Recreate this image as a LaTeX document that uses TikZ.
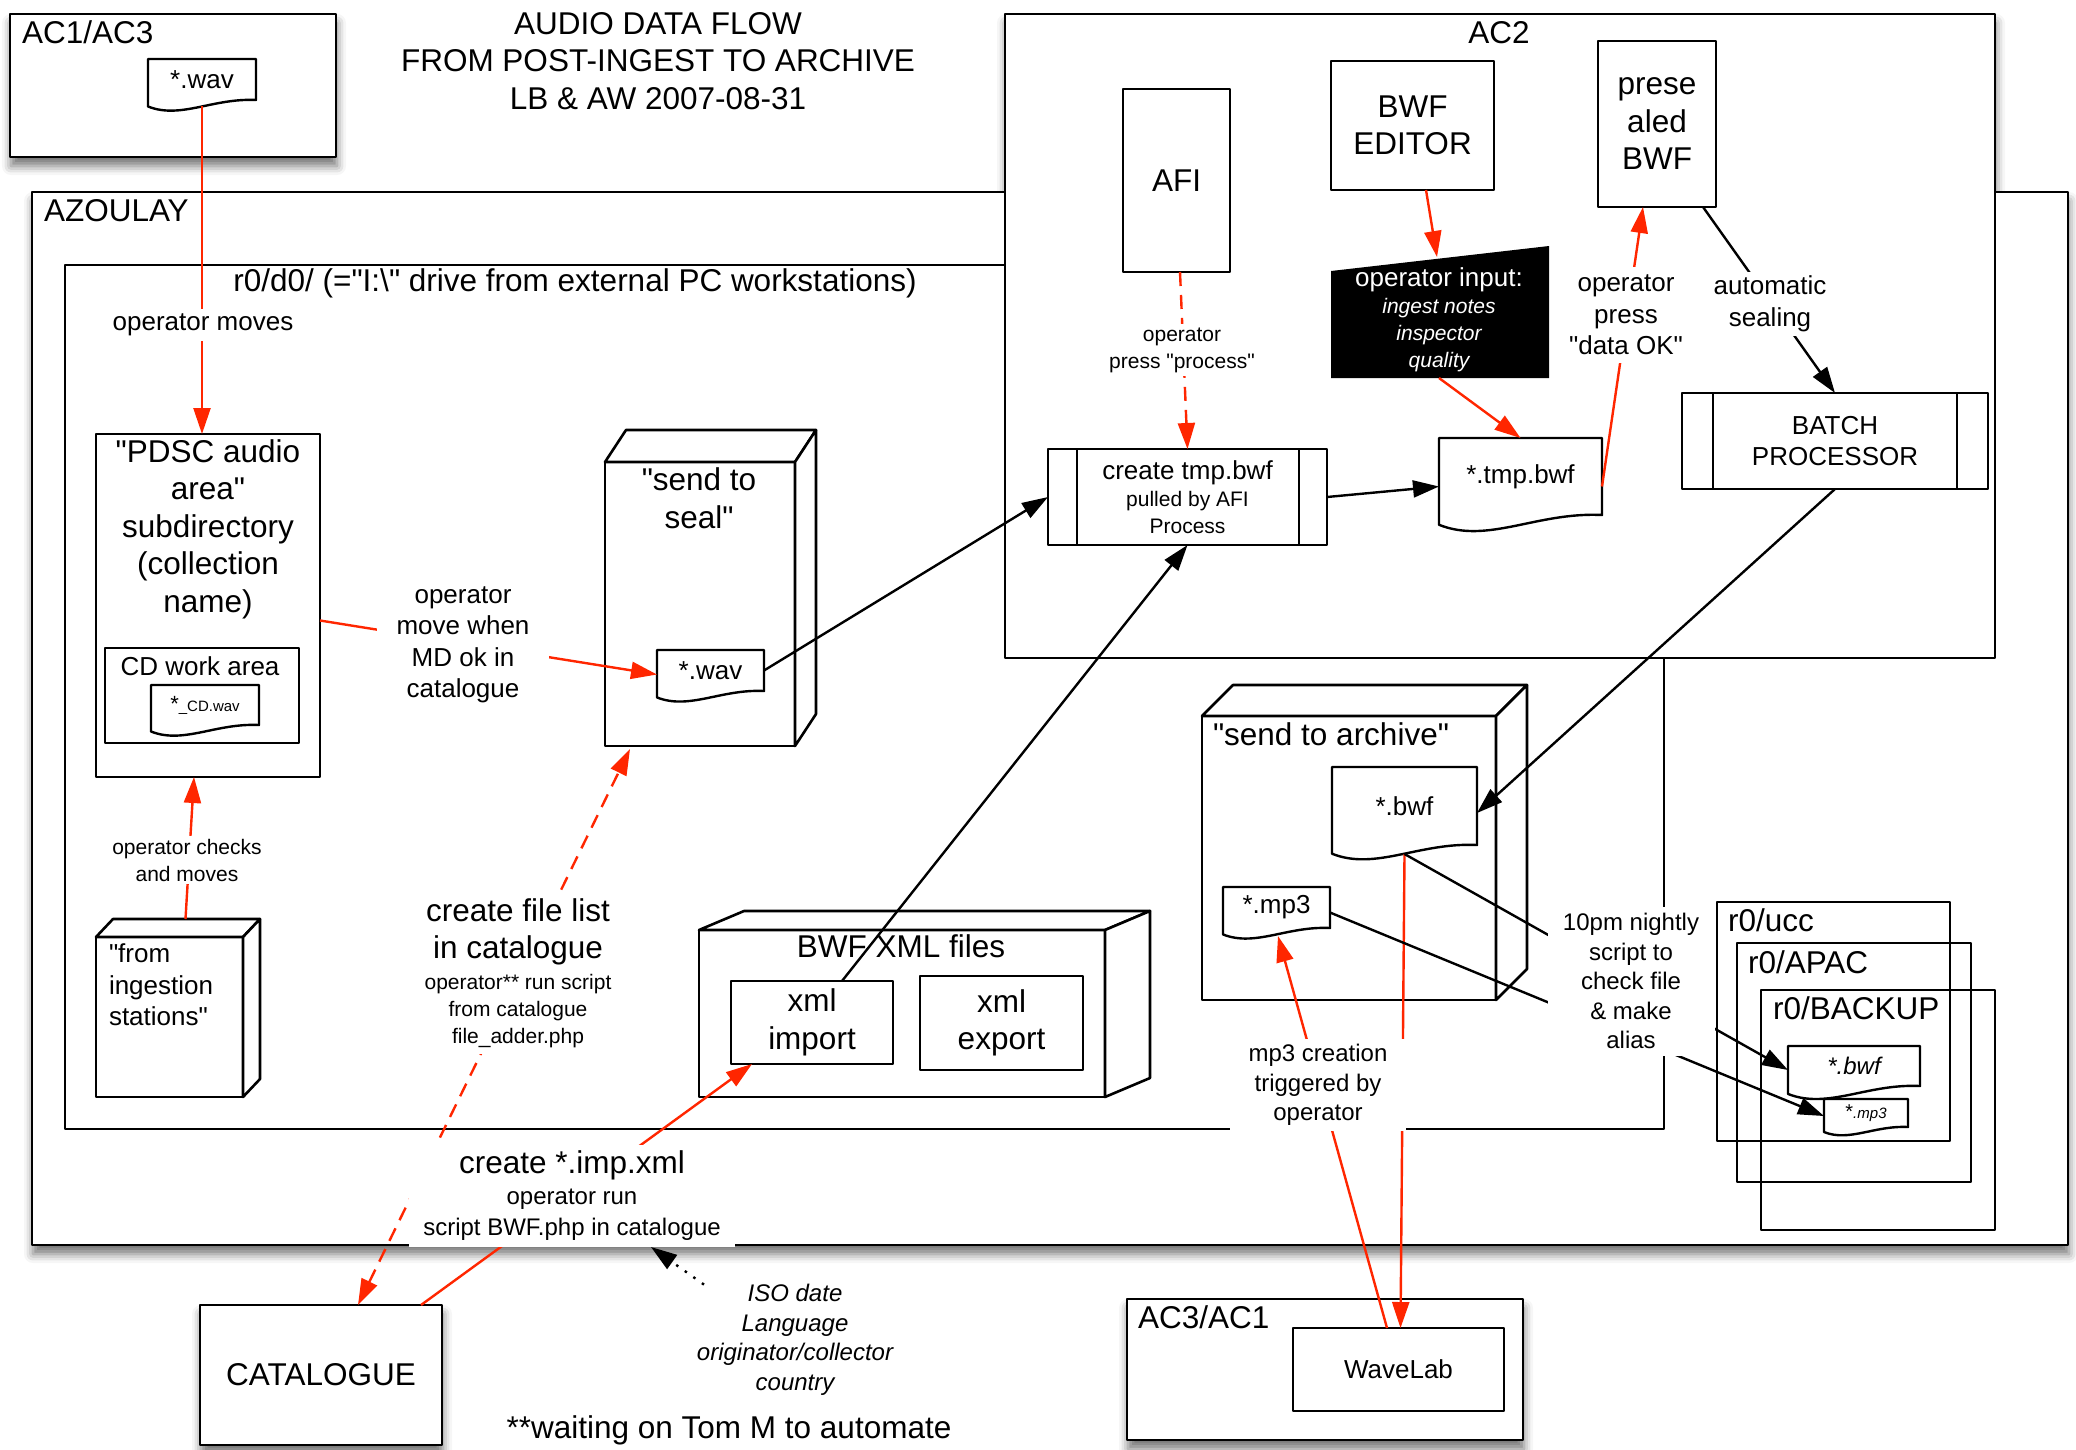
\documentclass[tikz,border=0pt]{standalone}
\usepackage{fontspec}
\setmainfont{Liberation Sans}[Ligatures=TeXOff]
\usetikzlibrary{arrows.meta,shadows.blur,calc}
\pgfdeclarelayer{front}
\pgfsetlayers{main,front}
\definecolor{redl}{RGB}{255,38,0}
\tikzset{
  box/.style={draw=black, fill=white, line width=2.6pt, inner sep=0pt, outer sep=0pt, line join=round, align=center},
  ebox/.style={draw=black, line width=2.6pt},
  shad/.style={blur shadow={shadow xshift=1pt, shadow yshift=-9pt, shadow blur radius=9pt, shadow opacity=55}},
  fA/.style={font=\fontsize{31.5}{37.5}\selectfont},
  fB/.style={font=\fontsize{26}{31.5}\selectfont},
  fC/.style={font=\fontsize{24}{29.5}\selectfont},
  fD/.style={font=\fontsize{21}{27}\selectfont},
  txt/.style={inner sep=0pt, outer sep=0pt, align=center},
  lbl/.style={fill=white, inner sep=4pt, outer sep=0pt, align=center},
  tip/.style={-{Triangle[length=26pt,width=17pt]}},
  redarr/.style={draw=redl, line width=2.4pt, tip},
  redln/.style={draw=redl, line width=2.4pt},
  blkarr/.style={draw=black, line width=2.4pt, tip},
  blkln/.style={draw=black, line width=2.4pt},
}
% rectangle node from corners
\newcommand\rbox[7][]{\node[box, anchor=north west, minimum width={#5-#3}, minimum height={#6-#4}, #1] (#2) at (#3,#4) {#7};}
% document shape with wavy bottom
\newcommand\docshape[7][]{%
  \filldraw[draw=black, fill=white, line width=2.4pt, line join=round] (#3,#4) -- (#5,#4) -- (#5,#6) .. controls +({-0.4*(#5-#3)},{-0.02*(#5-#3)}) and +({0.3*(#5-#3)},{0.12*(#5-#3)}) .. (#3,{#6+0.06*(#5-#3)}) -- cycle;
  \node[txt, anchor=north west, minimum width={#5-#3}, minimum height={#6-#4}, #1] (#2) at (#3,#4) {#7};}
% 3D box: name x1 y1 x2 y2 dx dy
\newcommand\cube[7]{%
  \node[box, anchor=north west, minimum width={#4-#2}, minimum height={#5-#3}] (#1) at (#2,#3) {};
  \filldraw[box] (#2,#3) -- ({#2+#6},{#3+#7}) -- ({#4+#6},{#3+#7}) -- (#4,#3) -- cycle;
  \filldraw[box] (#4,#3) -- ({#4+#6},{#3+#7}) -- ({#4+#6},{#5+#7}) -- (#4,#5) -- cycle;}

\begin{document}
\begin{tikzpicture}[x=1pt, y=-1pt]
\useasboundingbox (0,0) rectangle (2076,1449);
% ---------- containers (AC2 shadow lies behind AZOULAY)
\path[shad, fill=white] (1005,14) rectangle (1995,658);
\rbox[shad]{azoulay}{32}{192}{2068}{1245}{}
\rbox{rzero}{65}{265}{1664}{1129}{}
\rbox{acii}{1005}{14}{1995}{658}{}
\rbox[shad]{aci}{10}{14}{336}{157}{}
\rbox[shad]{aciii}{1127}{1299}{1523}{1440}{}
\rbox[shad, fA]{cat}{200}{1305}{442}{1445}{CATALOGUE}

\node[txt, fA, anchor=base west] (laci) at (22,43) {AC1/AC3};
\node[txt, fA, anchor=base west] (lazoulay) at (44,221) {AZOULAY};
\node[txt, fA, anchor=base] (lacii) at (1499,43) {AC2};
\node[txt, fA, anchor=base] (lrzero) at (575,291) {r0/d0/ (="I:\textbackslash" drive from external PC workstations)};
\node[txt, fA, anchor=base west] (laciii) at (1138,1328) {AC3/AC1};
\node[txt, fA] (title) at (658,61) {AUDIO DATA FLOW\\FROM POST-INGEST TO ARCHIVE\\LB \& AW 2007-08-31};

% ---------- AC1/AC3
\docshape[fB]{aciwav}{148}{59}{256}{100}{*.wav}

% ---------- PDSC area
\rbox{pdsc}{96}{434}{320}{777}{}
\node[txt, fA] (pdsctxt) at (208,529) {"PDSC audio\\area"\\subdirectory\\(collection\\name)};
\rbox{cdwork}{105}{648}{299}{743}{}
\node[txt, fB] (cdtxt) at (200,666) {CD work area};
\docshape{cdwav}{151}{685}{259}{725}{{\fontsize{22}{22}\selectfont *}{\fontsize{15}{15}\selectfont \_CD.wav}}

% ---------- send to seal
\cube{seal}{605}{462}{795}{746}{21}{-32}
\node[txt, fA] (sealtxt) at (699,498) {"send to\\seal"};
\docshape[fB]{sealwav}{657}{650}{764}{691}{*.wav}

% ---------- from ingestion stations
\cube{ingest}{96}{937}{243}{1097}{17}{-18}
\node[txt, fB, anchor=west, align=left] (ingtxt) at (109,985) {"from\\ingestion\\stations"};

% ---------- BWF XML files
\cube{bwfxml}{699}{930}{1105}{1097}{45}{-19}
\node[txt, fA, anchor=base] (bwfxmltxt) at (901,957) {BWF XML files};
\rbox[fA]{ximp}{731}{981}{893}{1064}{xml\\import}
\rbox[fA]{xexp}{920}{976}{1083}{1070}{xml\\export}

% ---------- AC2 content
\rbox[fA]{afi}{1123}{89}{1230}{272}{AFI}
\rbox[fA]{bwfed}{1331}{61}{1494}{190}{BWF\\EDITOR}
\rbox[fA]{pres}{1598}{41}{1716}{207}{prese\\aled\\BWF}
\rbox[fD]{tmp}{1048}{449}{1327}{545}{{\fontsize{26}{26}\selectfont create tmp.bwf}\\pulled by AFI\\Process}
\draw[ebox] ([xshift=29pt]tmp.north west) -- ([xshift=29pt]tmp.south west)
            ([xshift=-28pt]tmp.north east) -- ([xshift=-28pt]tmp.south east);
\rbox[fB]{batch}{1682}{393}{1988}{489}{BATCH\\PROCESSOR}
\draw[ebox] ([xshift=31pt]batch.north west) -- ([xshift=31pt]batch.south west)
            ([xshift=-31pt]batch.north east) -- ([xshift=-31pt]batch.south east);
\node[anchor=north west, minimum width=218pt, minimum height=132pt, inner sep=0pt, outer sep=0pt] (opin) at (1331,246) {};
\fill[black] (opin.south west) -- ([yshift=-25pt]opin.north west) -- (opin.north east) -- (opin.south east) -- cycle;
\node[txt, fD, text=white] (opintxt) at (1439,320) {{\fontsize{26}{26}\selectfont operator input:}\\{\itshape ingest notes}\\{\itshape inspector}\\{\itshape quality}};
\docshape[fB]{tmpbwf}{1439}{438}{1602}{515}{*.tmp.bwf}

% ---------- send to archive
\cube{arch}{1202}{716}{1496}{1000}{31}{-31}
\node[txt, fA, anchor=base west] (archtxt) at (1213,745) {"send to archive"};
\docshape[fB]{archbwf}{1332}{767}{1477}{845}{*.bwf}
\docshape[fB]{archmp3}{1223}{887}{1330}{928}{*.mp3}

% ---------- backup folders
\rbox[fill=none]{ucc}{1717}{902}{1950}{1141}{}
\rbox[fill=none]{apac}{1737}{943}{1971}{1182}{}
\rbox[fill=none]{bk}{1761}{990}{1995}{1230}{}
\node[txt, fA, anchor=base west] (lucc) at (1728,931) {r0/ucc};
\node[txt, fA, anchor=base west] (lapac) at (1748,973) {r0/APAC};
\node[txt, fA, anchor=base west] (lbk) at (1773,1019) {r0/BACKUP};
\docshape{bkbwf}{1788}{1046}{1920}{1086}{\fontsize{24}{24}\selectfont\itshape *.bwf}
\docshape{bkmp3}{1824}{1099}{1908}{1127}{{\fontsize{20}{20}\selectfont *}{\fontsize{15}{15}\selectfont\itshape .mp3}}

% ---------- AC3/AC1
\rbox[fB]{wave}{1293}{1328}{1504}{1411}{WaveLab}

% ---------- free texts
\node[txt, font=\fontsize{24}{29.5}\selectfont\itshape] (iso) at (795,1340) {ISO date\\Language\\originator/collector\\country};
\node[txt, fA, anchor=base] (waiting) at (729,1438) {**waiting on Tom M to automate};

% ---------- connector labels (front layer)
\begin{pgfonlayer}{front}
\node[lbl, fB, inner ysep=5pt] (lmoves) at (203,325) {operator moves};
\node[lbl, fB, inner xsep=20pt] (lmove) at (463,645) {operator\\move when\\MD ok in\\catalogue};
\node[lbl, fD, inner ysep=3pt] (lchecks) at (187,860) {operator checks\\and moves};
\node[lbl, fA, inner ysep=6pt] (cfl1) at (518,932) {create file list\\in catalogue};
\node[lbl, fD, inner ysep=6pt] (cfl2) at (518,1011) {operator** run script\\from catalogue\\file\_adder.php};
\node[lbl, font=\fontsize{24}{31}\selectfont, minimum width=326pt, minimum height=102pt] (imp) at (572,1196) {{\fontsize{31.5}{31}\selectfont create *.imp.xml}\\operator run\\script BWF.php in catalogue};
\node[lbl, fD] (lproc) at (1182,350) {operator\\press "process"};
\node[lbl, fB, inner ysep=8pt] (ldata) at (1626,315) {operator\\press\\"data OK"};
\node[lbl, fB] (lauto) at (1770,304) {automatic\\sealing};
\node[lbl, fC, minimum width=176pt, minimum height=92pt] (lmp3) at (1318,1085) {mp3 creation\\triggered by\\operator};
\node[lbl, fC, minimum width=167pt, minimum height=149pt] (lnightly) at (1631,981) {10pm nightly\\script to\\check file\\\& make\\alias};
\end{pgfonlayer}

% ---------- connectors
\draw[redarr] ([yshift=-6pt]aciwav.south) -- (aciwav.south |- pdsc.north);
\draw[redarr] ([yshift=-15pt]pdsc.east) -- ([yshift=-4pt]sealwav.west);
\draw[blkarr] (sealwav.east) -- (tmp.west);
\draw[redarr] ([xshift=16pt,yshift=18pt]ingest.north) -- ([xshift=-14pt]pdsc.south);
\draw[redln, dash pattern=on 14pt off 9pt, {Triangle[length=26pt,width=17pt]}-{Triangle[length=26pt,width=17pt]}] ([xshift=37pt]cat.north) -- ([xshift=-70pt,yshift=-3pt]seal.south);
\draw[redarr] ([xshift=100pt]cat.north) -- ([xshift=21pt]ximp.south west);
\draw[blkarr] ([xshift=30pt]ximp.north) -- (tmp.south);
\draw[blkln, dash pattern=on 2.5pt off 8pt, tip] ([xshift=7pt]iso.north west) -- ([xshift=79pt]imp.south);
\draw[redarr] ([xshift=13.5pt]bwfed.south) -- ([xshift=-3pt,yshift=-11pt]opin.north);
\draw[redarr] ([xshift=-1pt]opin.south) -- (tmpbwf.north);
\draw[redln, dash pattern=on 14pt off 9pt, tip] ([xshift=3.5pt]afi.south) -- (tmp.north);
\draw[blkarr] (tmp.east) -- ([yshift=-10pt]tmpbwf.west);
\draw[redarr] ([yshift=-10pt]tmpbwf.east) -- ([xshift=-14pt]pres.south);
\draw[blkarr] ([xshift=46pt]pres.south) -- (batch.north);
\draw[blkarr] (batch.south) -- ([yshift=-7pt]archbwf.east);
\draw[redarr] ([yshift=-9pt]archbwf.south) -- ([xshift=2pt]wave.north);
\draw[redarr] ([xshift=-11.5pt]wave.north) -- ([xshift=1.5pt,yshift=-8pt]archmp3.south);
\draw[blkarr] ([yshift=-9pt]archbwf.south) -- ([yshift=-4pt]bkbwf.west);
\draw[blkarr] ([yshift=-5pt]archmp3.east) -- ([yshift=-3pt]bkmp3.west);
\end{tikzpicture}
\end{document}
